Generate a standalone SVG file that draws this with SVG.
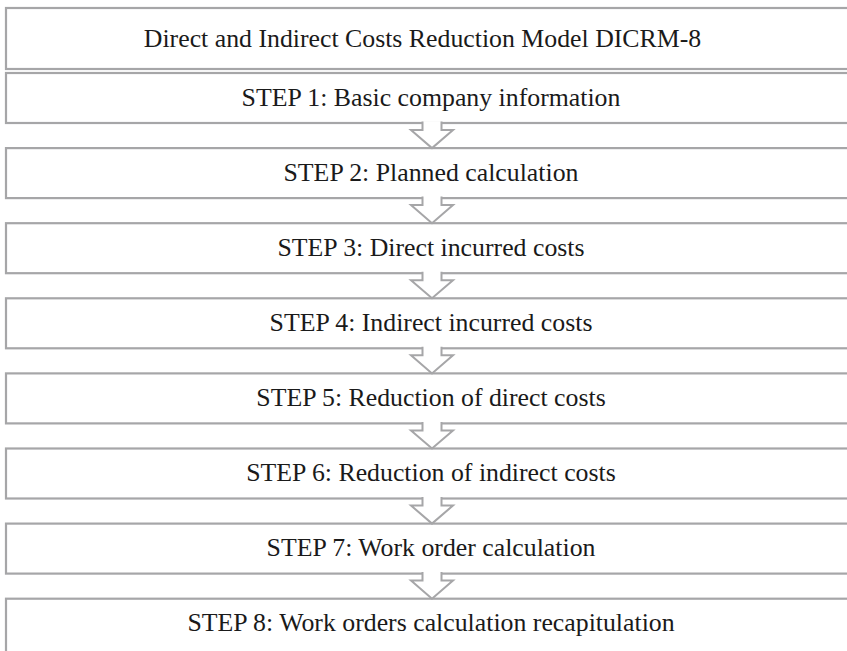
<svg xmlns="http://www.w3.org/2000/svg" width="847" height="651" viewBox="0 0 847 651">
<style>
.box{fill:#fff;stroke:#a6a6a8;stroke-width:2.2}
.arr{fill:#fff;stroke:#a6a6a8;stroke-width:2;stroke-linejoin:miter}
.t{font-family:"Liberation Serif","Times New Roman",serif;font-size:25.8px;fill:#1a1a1a;text-anchor:middle}
</style>
<rect width="847" height="651" fill="#fff"/>
<g id="title"><rect class="box" x="6" y="8" width="880" height="61"/><text class="t" x="422.5" y="46.8">Direct and Indirect Costs Reduction Model DICRM-8</text></g>
<g id="step1"><rect class="box" x="6" y="73" width="880" height="50"/><text class="t" x="431" y="105.6">STEP 1: Basic company information</text></g>
<g id="step2"><rect class="box" x="6" y="148.1" width="880" height="50"/><text class="t" x="431" y="180.7">STEP 2: Planned calculation</text></g>
<g id="step3"><rect class="box" x="6" y="223.2" width="880" height="50"/><text class="t" x="431" y="255.8">STEP 3: Direct incurred costs</text></g>
<g id="step4"><rect class="box" x="6" y="298.3" width="880" height="50"/><text class="t" x="431" y="330.9">STEP 4: Indirect incurred costs</text></g>
<g id="step5"><rect class="box" x="6" y="373.4" width="880" height="50"/><text class="t" x="431" y="406">STEP 5: Reduction of direct costs</text></g>
<g id="step6"><rect class="box" x="6" y="448.5" width="880" height="50"/><text class="t" x="431" y="481.1">STEP 6: Reduction of indirect costs</text></g>
<g id="step7"><rect class="box" x="6" y="523.6" width="880" height="50"/><text class="t" x="431" y="556.2">STEP 7: Work order calculation</text></g>
<g id="step8"><rect class="box" x="6" y="598.7" width="880" height="70"/><text class="t" x="431" y="631.3">STEP 8: Work orders calculation recapitulation</text></g>
<g id="connectors">
<path class="arr" d="M422.5 121.5 L422.5 130 L411 130 L432 148.1 L453 130 L441.5 130 L441.5 121.5"/>
<path class="arr" d="M422.5 196.6 L422.5 205.1 L411 205.1 L432 223.2 L453 205.1 L441.5 205.1 L441.5 196.6"/>
<path class="arr" d="M422.5 271.7 L422.5 280.2 L411 280.2 L432 298.3 L453 280.2 L441.5 280.2 L441.5 271.7"/>
<path class="arr" d="M422.5 346.8 L422.5 355.3 L411 355.3 L432 373.4 L453 355.3 L441.5 355.3 L441.5 346.8"/>
<path class="arr" d="M422.5 421.9 L422.5 430.4 L411 430.4 L432 448.5 L453 430.4 L441.5 430.4 L441.5 421.9"/>
<path class="arr" d="M422.5 497 L422.5 505.5 L411 505.5 L432 523.6 L453 505.5 L441.5 505.5 L441.5 497"/>
<path class="arr" d="M422.5 572.1 L422.5 580.6 L411 580.6 L432 598.7 L453 580.6 L441.5 580.6 L441.5 572.1"/>
</g>
</svg>
